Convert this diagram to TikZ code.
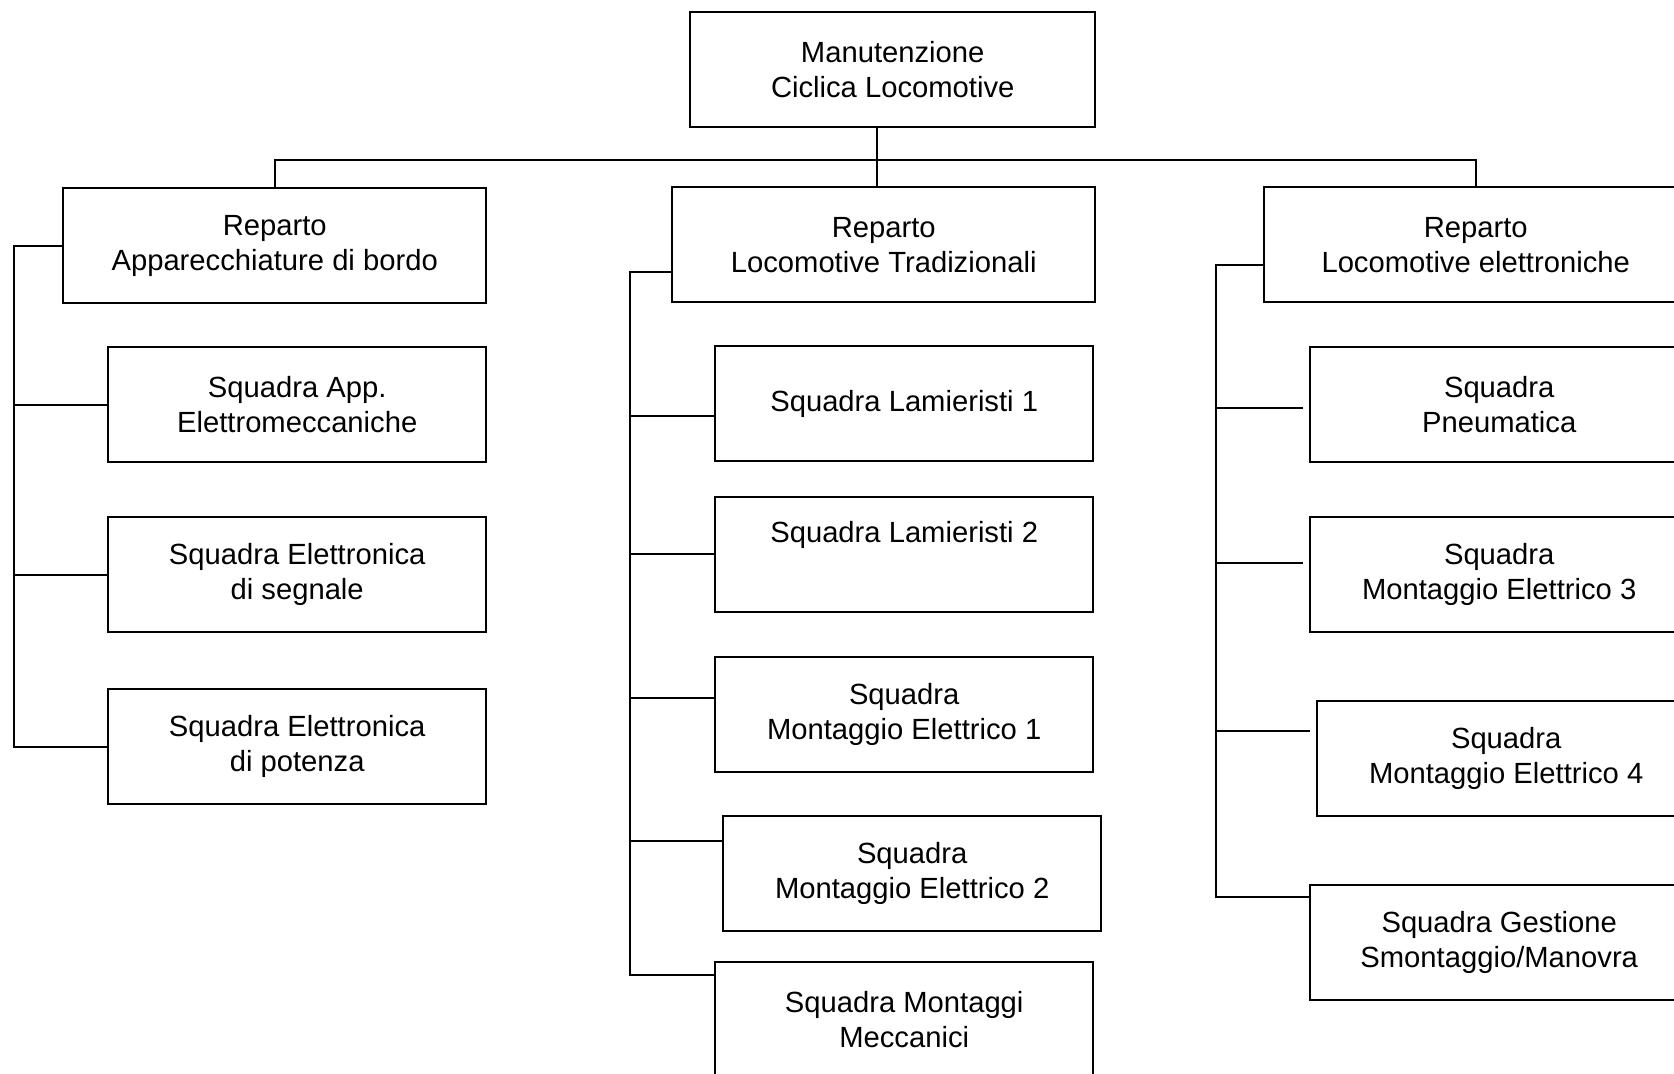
\documentclass[tikz,border=0pt]{standalone}
\usepackage{fontspec}
\setmainfont{Liberation Sans}
\usepackage{tikz}
\usetikzlibrary{positioning}
\newcommand{\boxfont}{\fontsize{14.6}{17.4}\selectfont}
\tikzset{
    %Define style for boxes
    capo/.style={
           rectangle,
           draw=black, line width=1.2pt,
           minimum width=202.5pt,
           minimum height=57.5pt,
           inner sep=0pt,
           anchor=north west,
           font=\boxfont,
           align=center},
    reparto/.style={
           rectangle,
           draw=black, line width=1.2pt,
           minimum width=211.5pt,
           minimum height=57.5pt,
           inner sep=0pt,
           anchor=north west,
           font=\boxfont,
           align=center},
    squadra/.style={
           rectangle,
           draw=black, line width=1.2pt,
           minimum width=189pt,
           minimum height=57.5pt,
           inner sep=0pt,
           anchor=north west,
           font=\boxfont,
           align=center},
    % Define line style
    filo/.style={
           line width=0.9pt},
    spina/.style={
           line width=1.2pt}
}

\begin{document}
\begin{tikzpicture}[x=0.5pt,y=-0.5pt,sq/.style={squadra},rp/.style={reparto}]
\useasboundingbox (0,0) rectangle (1674,1073);
\clip (0,0) rectangle (1674,1073);
\node[capo](mcl) at (689,11){Manutenzione\\Ciclica Locomotive};
\node[rp](rab) at (62,187){Reparto\\Apparecchiature di bordo};
\node[rp](rlt) at (671,186){Reparto\\Locomotive Tradizionali};
\node[rp](rle) at (1263,186){Reparto\\Locomotive elettroniche};
% left column
\node[sq](sae) at (107,346){Squadra App.\\Elettromeccaniche};
\node[sq](ses) at (107,516){Squadra Elettronica\\di segnale};
\node[sq](sep) at (107,688){Squadra Elettronica\\di potenza};
% middle column
\node[sq](sl1) at (714,345){Squadra Lamieristi 1};
\node[sq](sl2) at (714,496){Squadra Lamieristi 2\\\strut};
\node[sq](sm1) at (714,656){Squadra\\Montaggio Elettrico 1};
\node[sq](sm2) at (722,815){Squadra\\Montaggio Elettrico 2};
\node[sq](smm) at (714,961){Squadra Montaggi\\Meccanici};
% right column
\node[sq](spn) at (1309,346){Squadra\\Pneumatica};
\node[sq](sm3) at (1309,516){Squadra\\Montaggio Elettrico 3};
\node[sq](sm4) at (1316,700){Squadra\\Montaggio Elettrico 4};
\node[sq](sgs) at (1309,884){Squadra Gestione\\Smontaggio/Manovra};
\coordinate (bus) at (877,160);
\coordinate (lx) at (14,0);
\coordinate (mx) at (630,0);
\coordinate (rx) at (1216,0);
\draw[spina] (mcl.south -| bus) -- (rlt.north -| bus);
\draw[filo] (rab.north) |- (bus) -| (rle.north);
\draw[spina] (rab.west) -- (lx |- rab.west) -- (lx |- sep.west) -- (sep.west);
\foreach \n in {sae,ses}
  \draw[filo] (lx |- \n.west) -- (\n.west);
\draw[spina] (rlt.west |- 0,272) -- (mx |- 0,272) -- (mx |- 0,975) -- (smm.west |- 0,975);
\foreach \n/\y in {sl1/416,sl2/554,sm1/698,sm2/841}
  \draw[filo] (mx |- 0,\y) -- (\n.west |- 0,\y);
\draw[spina] (rle.west |- 0,265) -- (rx |- 0,265) -- (rx |- 0,897) -- (sgs.west |- 0,897);
\foreach \n/\y in {spn/408,sm3/563,sm4/731}
  \draw[filo,shorten >=3pt] (rx |- 0,\y) -- (\n.west |- 0,\y);
\end{tikzpicture}
\end{document}
